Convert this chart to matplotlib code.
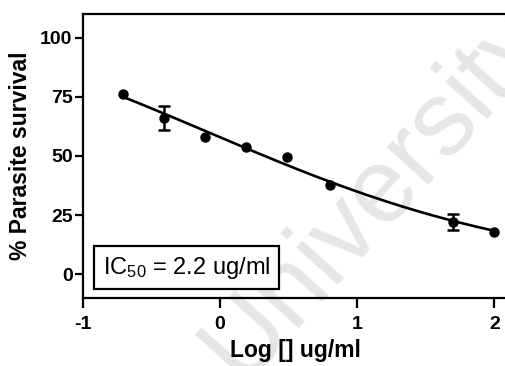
import numpy as np
import matplotlib
matplotlib.use("Agg")
import matplotlib.pyplot as plt

# log concentration (ug/ml) and % survival
log_conc = np.array([-0.71, -0.41, -0.11, 0.19, 0.49, 0.80, 1.70, 2.00])
survival = np.array([76.1, 66.1, 58.2, 53.9, 49.7, 37.7, 22.2, 17.8])
sem = np.array([0.0, 5.0, 0.0, 0.0, 0.0, 0.0, 3.3, 0.0])

# dose-response fit parameters (4PL)
top = 120.0
bottom = 0.0
log_mid = -0.085
hill = 0.356

xticks = [-1, 0, 1, 2]
yticks = [0, 25, 50, 75, 100]

plt.rcParams["font.family"] = ["Liberation Sans", "DejaVu Sans"]
plt.rcParams["mathtext.default"] = "regular"
plt.rcParams["axes.unicode_minus"] = False

fig = plt.figure(figsize=(5.06, 3.66), dpi=100)
ax = fig.add_axes([83 / 506, 68 / 366, 425 / 506, 284 / 366])

xfit = np.linspace(log_conc.min(), log_conc.max(), 200)
yfit = bottom + (top - bottom) / (1 + 10 ** ((xfit - log_mid) * hill))
ax.plot(xfit, yfit, color="black", lw=1.9, zorder=3)

ax.plot(log_conc, survival, "o", color="black", ms=6.5, zorder=4)
has_err = sem > 0
ax.errorbar(log_conc[has_err], survival[has_err], yerr=sem[has_err], fmt="none",
            ecolor="black", elinewidth=1.8, capsize=4.3, capthick=1.8, zorder=4)

# faint watermark
ax.text(0.69, 0.37, "University", transform=ax.transAxes, rotation=48,
        fontsize=76, color="#e6e6e6", ha="center", va="center", zorder=0,
        family=["Liberation Sans"], clip_on=False)

ax.text(0.2435, 0.106, "IC$_{50}$ = 2.2 ug/ml", transform=ax.transAxes,
        fontsize=17, ha="center", va="center", zorder=5,
        bbox=dict(boxstyle="square,pad=0.36", fc="white", ec="black", lw=1.6))

ax.set_xlim(-1, 2.1)
ax.set_ylim(-10, 110)
ax.set_xticks(xticks)
ax.set_yticks(yticks)
ax.spines["right"].set_visible(False)
for s in ["left", "bottom", "top"]:
    ax.spines[s].set_linewidth(1.6)
ax.tick_params(axis="both", width=1.6, labelsize=14)
ax.tick_params(axis="y", length=6, pad=1.5)
ax.tick_params(axis="x", length=7, pad=6)
for lbl in ax.get_xticklabels() + ax.get_yticklabels():
    lbl.set_fontweight("bold")

ax.set_xlabel("Log [] ug/ml", fontsize=16.5, fontweight="bold", labelpad=4)
ax.set_ylabel("% Parasite survival", fontsize=16.5, fontweight="bold", labelpad=6)

fig.savefig("out.png", dpi=100)
